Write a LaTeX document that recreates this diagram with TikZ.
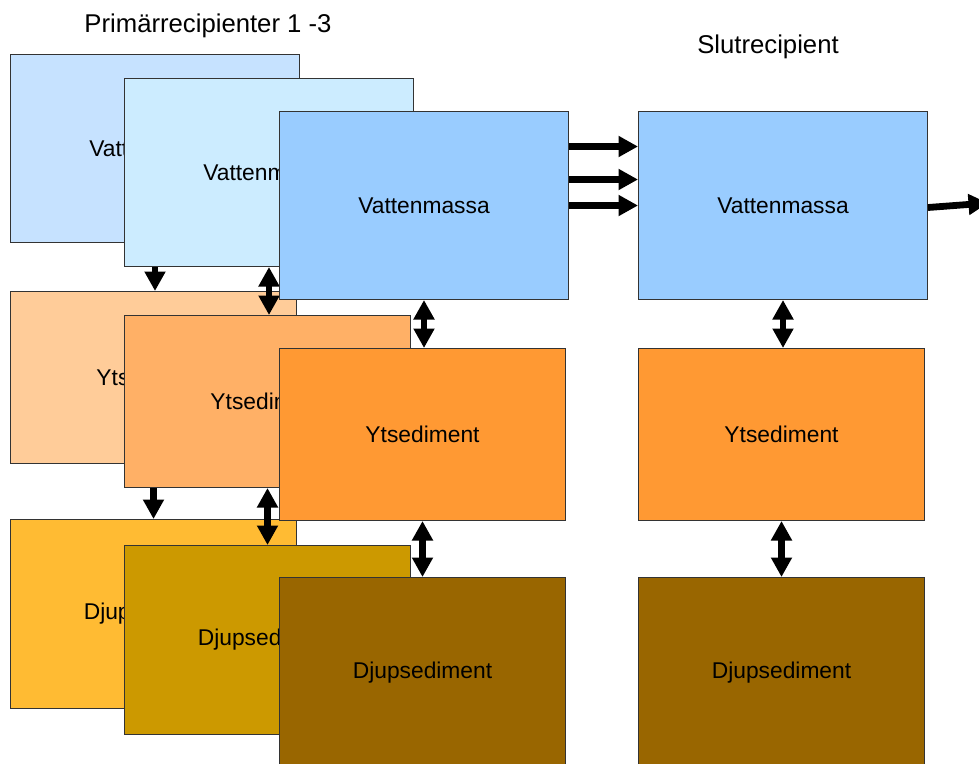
\documentclass[tikz,border=0pt]{standalone}
\usepackage{fontspec}
\setmainfont{Liberation Sans}
\usetikzlibrary{arrows.meta}
\definecolor{boxline}{HTML}{333333}
\definecolor{vA}{HTML}{C6E2FF}
\definecolor{vB}{HTML}{CCECFF}
\definecolor{vC}{HTML}{99CCFF}
\definecolor{yA}{HTML}{FFCC99}
\definecolor{yB}{HTML}{FFB066}
\definecolor{yC}{HTML}{FF9933}
\definecolor{dA}{HTML}{FFBB33}
\definecolor{dB}{HTML}{CC9900}
\definecolor{dC}{HTML}{996600}
\begin{document}
\begin{tikzpicture}[x=1pt,y=-1pt,
  box/.style={draw=boxline, line width=1pt, anchor=north west, inner sep=0pt,
    font=\fontsize{22.8}{27}\selectfont, text=black},
  vbox/.style={box, minimum width=289pt, minimum height=188pt},
  sbox/.style={box, minimum width=286pt, minimum height=172pt},
  dbox/.style={box, minimum width=286pt, minimum height=189pt},
  tipv/.tip={Triangle[width=20pt 0 0,length=19.5pt 0 0]},
  arr/.style={line width=6.8pt, -tipv},
  darr/.style={line width=6.8pt, tipv-tipv},
  ttl/.style={font=\fontsize{25.7}{30}\selectfont, anchor=base, text=black}]
\useasboundingbox (0,0) rectangle (979,763);
\clip (0,0) rectangle (979,763);

% titles
\node[ttl] (t1) at (208,32) {Primärrecipienter 1 -3};
\node[ttl] (t2) at (768,53.5) {Slutrecipient};

% layer 1
\node[vbox, fill=vA] (V1) at (10,54) {Vattenmassa};
\node[sbox, fill=yA] (Y1) at (10,291) {Ytsediment};
\node[dbox, fill=dA] (D1) at (10,519) {Djupsediment};
\draw[arr] (V1.south) -- (V1.south |- Y1.north);
\draw[arr] (Y1.south) -- (Y1.south |- D1.north);

% layer 2
\node[vbox, fill=vB] (V2) at (124,78) {Vattenmassa};
\node[sbox, fill=yB] (Y2) at (124,315) {Ytsediment};
\node[dbox, fill=dB] (D2) at (124,545) {Djupsediment};
\draw[darr] (V2.south) -- (V2.south |- Y2.north);
\draw[darr] (Y2.south) -- (Y2.south |- D2.north);

% layer 3
\node[vbox, fill=vC] (V3) at (279,111) {Vattenmassa};
\node[sbox, fill=yC] (Y3) at (279,348) {Ytsediment};
\node[dbox, fill=dC, minimum height=190pt] (D3) at (279,577) {Djupsediment};
\draw[darr] (V3.south) -- (V3.south |- Y3.north);
\draw[darr] (Y3.south) -- (Y3.south |- D3.north);

% slutrecipient
\node[vbox, fill=vC] (V4) at (638,111) {Vattenmassa};
\node[sbox, fill=yC] (Y4) at (638,348) {Ytsediment};
\node[dbox, fill=dC, minimum height=190pt] (D4) at (638,577) {Djupsediment};
\draw[darr] (V4.south) -- (V4.south |- Y4.north);
\draw[darr] (Y4.south) -- (Y4.south |- D4.north);

% flows between recipients
\draw[arr] ([yshift=59pt]V3.east) -- ([yshift=59pt]V4.west);
\draw[arr] ([yshift=26pt]V3.east) -- ([yshift=26pt]V4.west);
\draw[arr] (V3.east) -- (V4.west);

% outflow
\coordinate (out) at (988,203);
\draw[arr] ([yshift=-2pt]V4.east) -- (out);
\end{tikzpicture}
\end{document}
